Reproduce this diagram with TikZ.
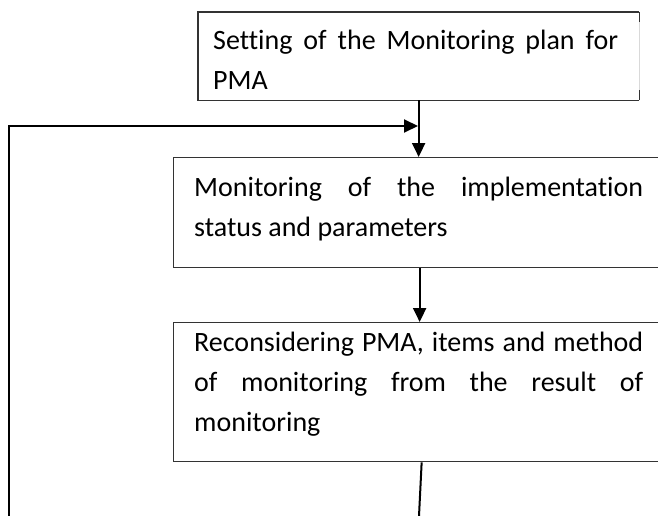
\documentclass[tikz,border=0pt]{standalone}
\usepackage{fontspec}
\setmainfont[Ligatures={NoCommon,NoContextual}]{Carlito}
\usetikzlibrary{arrows.meta}
\begin{document}
\begin{tikzpicture}[x=1pt,y=-1pt,
  frame/.style={rectangle, draw=black!80, line width=1.3pt, inner sep=0pt, anchor=north west},
  txt/.style={inner sep=0pt, anchor=base west, text=black,
    font=\fontsize{28}{40}\selectfont},
  link/.style={draw=black, line width=2pt},
  tip/.style={-{Triangle[length=14pt,width=13pt]}}]
\clip (0,0) rectangle (658,516);
\fill[white] (0,0) rectangle (658,516);

% first box: right edge is pale except for its two ends
\node[frame, draw=none, minimum width=440pt, minimum height=87pt] (b1) at (198,12) {};
\draw[black!80, line width=1.3pt] (b1.north east) -- (b1.north west) -- (b1.south west) -- (b1.south east);
\draw[black!15, line width=1.3pt] (b1.north east) -- (b1.south east);
\draw[black!80, line width=1.3pt] (b1.north east) -- ++(0,10) (b1.south east) -- ++(0,-10);
\node[txt] (t1) at (213,50) {\parbox[t]{405pt}{\makebox[405pt][s]{Setting of the Monitoring plan for}\\PMA}};

% second box
\node[frame, minimum width=520pt, minimum height=110pt] (b2) at (173,157) {};
\node[txt] (t2) at (194,196) {\parbox[t]{449pt}{\makebox[449pt][s]{Monitoring of the implementation}\\status and parameters}};

% third box
\node[frame, minimum width=520pt, minimum height=139pt] (b3) at (173,322) {};
\node[txt] (t3) at (194,351) {\parbox[t]{449pt}{\makebox[449pt][s]{Reconsidering PMA, items and method}\\\makebox[449pt][s]{of monitoring from the result of}\\monitoring}};

% connectors
\coordinate (merge) at (418,126);
\coordinate (back) at (9,516);
\coordinate (out) at (419,516);
\draw[link,tip] (b1.south) -- (b1.south |- b2.north);
\draw[link,tip] ([xshift=1pt]b1.south |- b2.south) -- ([xshift=1pt]b1.south |- b3.north);
\draw[link] ([xshift=3pt]b1.south |- b3.south) -- (out);
\draw[link,tip] (back) |- (merge);
\end{tikzpicture}
\end{document}
